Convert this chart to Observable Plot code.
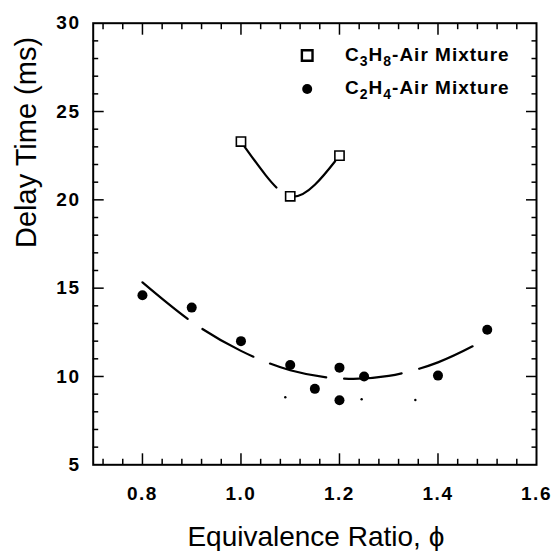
<!DOCTYPE html>
<html><head><meta charset="utf-8">
<script src="https://cdn.jsdelivr.net/npm/d3@7"></script>
<script src="https://cdn.jsdelivr.net/npm/@observablehq/plot@0.6"></script>
<style>
body{margin:0;background:#fff;overflow:hidden;}
g[aria-label="x-axis tick label"] text, g[aria-label="y-axis tick label"] text{letter-spacing:1.5px;}
</style></head><body><div id="chart"></div>
<script>
// Data
const c3h8Phi = [1.0, 1.1, 1.2];
const c3h8Delay = [23.3, 20.2, 22.5];
const c2h4Phi = [0.8, 0.9, 1.0, 1.1, 1.15, 1.2, 1.2, 1.25, 1.4, 1.5];
const c2h4Delay = [14.6, 13.9, 12.0, 10.65, 9.3, 10.5, 8.65, 10.0, 10.05, 12.65];
// fitted curves
const c3h8FitPhi = [1.0, 1.05, 1.1, 1.15, 1.2];
const c3h8FitDelay = [23.3, 21.4, 20.2, 20.85, 22.5];
const c2h4FitPhi = [0.8, 0.9, 1.0, 1.1, 1.2, 1.3, 1.4, 1.48];
const c2h4FitDelay = [15.33, 13.1, 11.45, 10.35, 9.89, 10.03, 10.8, 11.85];
// small specks visible below the curve
const speckPhi = [1.09, 1.245, 1.354];
const speckDelay = [8.82, 8.71, 8.67];
// axes and labels
const xTicks = [0.8, 1.0, 1.2, 1.4, 1.6];
const yTicks = [5, 10, 15, 20, 25, 30];
const legendLabels = ["C3H8-Air Mixture", "C2H4-Air Mixture"];
const xTitle = "Equivalence Ratio, \u03D5";
const yTitle = "Delay Time (ms)";

const W = 557, H = 551;
const mL = 92.7, mR = 21, mT = 22.7, mB = 86.7;
const xDom = [0.7, 1.6], yDom = [5, 30];

const zip = (a, b) => a.map((v, i) => ({x: v, y: b[i]}));
const c3h8 = zip(c3h8Phi, c3h8Delay);
const c2h4 = zip(c2h4Phi, c2h4Delay);
const c3h8Fit = zip(c3h8FitPhi, c3h8FitDelay);
const c2h4Fit = zip(c2h4FitPhi, c2h4FitDelay);
const specks = zip(speckPhi, speckDelay);

const xMajor = [0.8, 1.0, 1.2, 1.4];
const xMinor = d3.range(0.72, 1.59, 0.04).map(v => +v.toFixed(2)).filter(v => !xMajor.some(m => Math.abs(m - v) < 1e-6));
const yMajor = [10, 15, 20, 25];
const yMinor = d3.range(6, 30, 1).filter(v => v % 5 !== 0);

const majLen = 11, minLen = 5.5;
const noText = () => "";
// inward ticks drawn with Plot's own axis marks, shifted inside the frame
const inwardX = (vals, len) => [
  Plot.axisX(vals, {anchor: "bottom", tickSize: len, dy: -len, tickFormat: noText, label: null, strokeWidth: 1.5}),
  Plot.axisX(vals, {anchor: "top", tickSize: len, dy: len, tickFormat: noText, label: null, strokeWidth: 1.5})
];
const inwardY = (vals, len) => [
  Plot.axisY(vals, {anchor: "left", tickSize: len, dx: len, tickFormat: noText, label: null, strokeWidth: 1.5}),
  Plot.axisY(vals, {anchor: "right", tickSize: len, dx: -len, tickFormat: noText, label: null, strokeWidth: 1.5})
];

const svg = Plot.plot({
  width: W, height: H,
  marginLeft: mL, marginRight: mR, marginTop: mT, marginBottom: mB,
  style: {fontFamily: "'Liberation Sans', Arial, sans-serif", color: "black", background: "white"},
  x: {domain: xDom},
  y: {domain: yDom},
  marks: [
    Plot.axisX({ticks: xTicks, tickSize: 0, tickPadding: 22, tickFormat: d3.format(".1f"), label: null, fontSize: 19, fontWeight: "bold"}),
    Plot.axisY({ticks: yTicks, tickSize: 0, tickPadding: 12.7, tickFormat: d3.format("d"), label: null, fontSize: 19, fontWeight: "bold"}),
    // axis titles
    Plot.text([xTitle], {text: d => d, frameAnchor: "bottom", lineAnchor: "bottom", dy: 80.7, dx: 1, fontSize: 28}),
    Plot.text([yTitle], {text: d => d, frameAnchor: "left", rotate: -90, lineAnchor: "middle", dx: -66, dy: 4, fontSize: 29}),
    // fit curves
    Plot.line(c2h4Fit, {x: "x", y: "y", curve: "natural", stroke: "black", strokeWidth: 2.2, strokeDasharray: "58,18"}),
    Plot.line(c3h8Fit, {x: "x", y: "y", curve: "natural", stroke: "black", strokeWidth: 2.2, strokeDasharray: "58,18"}),
    // data
    Plot.dot(specks, {x: "x", y: "y", r: 1.2, fill: "black"}),
    Plot.dot(c2h4, {x: "x", y: "y", r: 5, fill: "black"}),
    Plot.dot(c3h8, {x: "x", y: "y", symbol: "square", r: 5.2, fill: "white", stroke: "black", strokeWidth: 1.6}),
    // legend
    Plot.dot([0], {frameAnchor: "top-right", dx: -229.3, dy: 32.3, symbol: "square", r: 6, fill: "white", stroke: "black", strokeWidth: 2.4}),
    Plot.dot([0], {frameAnchor: "top-right", dx: -229.3, dy: 65.8, r: 5, fill: "black"}),
    Plot.text([legendLabels[0]], {text: d => d, frameAnchor: "top-right", textAnchor: "start", lineAnchor: "bottom", dx: -191.5, dy: 37.3, fontSize: 19, fontWeight: "bold"}),
    Plot.text([legendLabels[1]], {text: d => d, frameAnchor: "top-right", textAnchor: "start", lineAnchor: "bottom", dx: -191.5, dy: 70.6, fontSize: 19, fontWeight: "bold"}),
    // frame and inward ticks on all four sides
    Plot.frame({stroke: "black", strokeWidth: 2}),
    ...inwardX(xMajor, majLen),
    ...inwardX(xMinor, minLen),
    ...inwardY(yMajor, majLen),
    ...inwardY(yMinor, minLen)
  ]
});

// subscripts in legend labels
d3.select(svg).selectAll("text").filter(function() {
  return legendLabels.includes(this.textContent);
}).each(function() {
  const t = this.textContent;
  const sel = d3.select(this);
  sel.style("letter-spacing", "1px");
  sel.text(null);
  const parts = t.split(/(\d)/).filter(p => p !== "");
  let sub = false;
  parts.forEach(p => {
    if (/^\d$/.test(p)) {
      sel.append("tspan").attr("dy", 5).attr("font-size", 14).text(p);
      sub = true;
    } else {
      const tsp = sel.append("tspan").text(p);
      if (sub) { tsp.attr("dy", -5); sub = false; }
    }
  });
});

document.getElementById("chart").appendChild(svg);
</script></body></html>
